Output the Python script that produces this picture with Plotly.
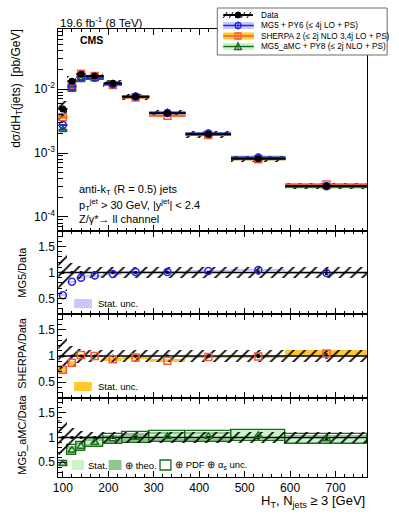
import plotly.graph_objects as go
from plotly.subplots import make_subplots

# ---- values ----
ht_edges = [90, 110, 130, 150, 190, 230, 290, 370, 470, 590, 770]
data_xs = [4.9e-3, 1.33e-2, 1.71e-2, 1.60e-2, 1.23e-2, 7.6e-3, 4.2e-3, 1.96e-3, 8.1e-4, 3.05e-4]
data_unc = [0.35, 0.19, 0.13, 0.11, 0.11, 0.11, 0.11, 0.11, 0.11, 0.11]    # total (hatched)
data_stat = [0.01, 0.01, 0.01, 0.01, 0.01, 0.015, 0.015, 0.02, 0.03, 0.04]

mg5_ratio = [0.56, 0.82, 0.90, 0.94, 0.97, 1.01, 1.01, 1.03, 1.05, 0.99]
mg5_stat = [0.02, 0.015, 0.01, 0.01, 0.01, 0.01, 0.01, 0.015, 0.02, 0.02]

sherpa_ratio = [0.74, 0.87, 1.02, 1.00, 0.94, 0.97, 0.91, 0.98, 0.99, 1.05]
sherpa_stat = [0.07, 0.04, 0.02, 0.02, 0.03, 0.03, 0.025, 0.02, 0.02, 0.055]

amc_ratio = [0.47, 0.74, 0.82, 0.90, 0.97, 1.00, 1.02, 1.02, 1.04, 0.97]
amc_stat = [0.02, 0.03, 0.03, 0.03, 0.03, 0.04, 0.05, 0.06, 0.11, 0.07]
amc_theo = [0.04, 0.09, 0.08, 0.09, 0.09, 0.10, 0.10, 0.10, 0.11, 0.09]
amc_pdf = [0.05, 0.10, 0.09, 0.10, 0.10, 0.11, 0.11, 0.11, 0.12, 0.10]

# ---- styling ----
W, H = 399, 516
FONT = 'Liberation Sans, Arial, sans-serif'
MG5_COL = 'rgb(35,35,240)'
MG5_BAND = 'rgb(200,200,250)'
SH_COL = 'rgb(245,90,60)'
SH_BAND = 'rgb(255,200,45)'
AMC_COL = 'rgb(25,110,25)'
AMC_STAT = 'rgb(200,245,200)'
AMC_THEO = 'rgb(140,200,140)'


def px_x(p):
    return p / W


def px_y(p):
    return 1 - p / H


centers = [(a + b) / 2 for a, b in zip(ht_edges[:-1], ht_edges[1:])]
widths = [b - a for a, b in zip(ht_edges[:-1], ht_edges[1:])]
halfw = [w / 2 for w in widths]


def steps(vals):
    xs, ys = [], []
    for a, b, v in zip(ht_edges[:-1], ht_edges[1:], vals):
        xs += [a, b, None]
        ys += [v, v, None]
    return xs, ys


def band(vals, errs, color, line=None, rel=False, pattern=None):
    if rel:
        base = [v * (1 - e) for v, e in zip(vals, errs)]
        hgt = [2 * v * e for v, e in zip(vals, errs)]
    else:
        base = [v - e for v, e in zip(vals, errs)]
        hgt = [2 * e for e in errs]
    mk = dict(color=color, line=dict(width=0 if line is None else 1.3,
                                     color=line or color))
    if pattern:
        mk['pattern'] = pattern
    return go.Bar(x=centers, y=hgt, base=base, width=widths, marker=mk,
                  showlegend=False, hoverinfo='skip')


hatch = dict(shape='/', fgcolor='black', bgcolor='rgba(0,0,0,0)', size=8, solidity=0.22,
             fgopacity=1)
no_fill = 'rgba(0,0,0,0)'

fig = make_subplots(rows=4, cols=1, shared_xaxes=True, vertical_spacing=0)

# ---- main panel ----
mg5_xs = [d * r for d, r in zip(data_xs, mg5_ratio)]
sh_xs = [d * r for d, r in zip(data_xs, sherpa_ratio)]
amc_xs = [d * r for d, r in zip(data_xs, amc_ratio)]

fig.add_trace(band(amc_xs, amc_stat, AMC_STAT, rel=True), 1, 1)
fig.add_trace(band(sh_xs, sherpa_stat, SH_BAND, rel=True), 1, 1)
fig.add_trace(band(mg5_xs, mg5_stat, MG5_BAND, rel=True), 1, 1)
for vals, col in [(amc_xs, AMC_COL), (sh_xs, SH_COL), (mg5_xs, MG5_COL)]:
    sx, sy = steps(vals)
    fig.add_trace(go.Scatter(x=sx, y=sy, mode='lines', line=dict(color=col, width=2),
                             showlegend=False), 1, 1)
fig.add_trace(band(data_xs, data_unc, no_fill, rel=True, pattern=hatch), 1, 1)
for vals, col, sym in [(amc_xs, AMC_COL, 'triangle-up-open'),
                       (sh_xs, SH_COL, 'square-open'),
                       (mg5_xs, MG5_COL, 'circle-open')]:
    fig.add_trace(go.Scatter(x=centers, y=vals, mode='markers',
                             marker=dict(symbol=sym, size=7, color=col, line=dict(width=1.5)),
                             showlegend=False), 1, 1)
fig.add_trace(go.Scatter(x=centers, y=data_xs, mode='markers',
                         marker=dict(symbol='circle', size=7, color='black'),
                         error_x=dict(type='data', array=halfw, color='black', thickness=2, width=0),
                         showlegend=False), 1, 1)

# ---- ratio panels ----
ones = [1.0] * len(centers)


def data_ratio(row):
    fig.add_trace(band(ones, data_unc, no_fill, pattern=hatch), row, 1)
    fig.add_trace(go.Scatter(x=[ht_edges[0], ht_edges[-1]], y=[1, 1], mode='lines',
                             line=dict(color='black', width=1.5), showlegend=False), row, 1)
    fig.add_trace(go.Scatter(x=centers, y=ones, mode='markers',
                             marker=dict(size=3, color='black'),
                             error_y=dict(type='data', array=data_stat, color='black',
                                          thickness=1, width=1.5),
                             showlegend=False), row, 1)


def mc_markers(row, vals, col, sym):
    fig.add_trace(go.Scatter(x=centers, y=vals, mode='markers',
                             marker=dict(symbol=sym, size=7, color=col, line=dict(width=1.5)),
                             showlegend=False), row, 1)


fig.add_trace(band(mg5_ratio, mg5_stat, MG5_BAND), 2, 1)
data_ratio(2)
mc_markers(2, mg5_ratio, MG5_COL, 'circle-open')

fig.add_trace(band(sherpa_ratio, sherpa_stat, SH_BAND), 3, 1)
data_ratio(3)
mc_markers(3, sherpa_ratio, SH_COL, 'square-open')

fig.add_trace(band(amc_ratio, amc_theo, AMC_THEO), 4, 1)
fig.add_trace(band(amc_ratio, amc_stat, AMC_STAT), 4, 1)
fig.add_trace(band(amc_ratio, amc_pdf, no_fill, line=AMC_COL), 4, 1)
data_ratio(4)
mc_markers(4, amc_ratio, AMC_COL, 'triangle-up-open')

# ---- axes ----
x0, x1 = px_x(54), px_x(367)
doms = [(231, 29), (314, 231), (398, 314), (477, 398)]
for i, (b, t) in enumerate(doms, start=1):
    fig.update_layout({f'yaxis{"" if i == 1 else i}': dict(domain=[px_y(b), px_y(t)]),
                       f'xaxis{"" if i == 1 else i}': dict(domain=[x0, x1])})

fig.update_xaxes(range=[ht_edges[0], ht_edges[-1]], showline=True, linecolor='black',
                 linewidth=1, mirror='allticks', ticks='inside', ticklen=6, tickwidth=1,
                 tickcolor='black', tick0=0, dtick=100, showgrid=False, zeroline=False,
                 minor=dict(ticks='inside', dtick=20, tick0=0, ticklen=3, tickcolor='black'),
                 tickfont=dict(size=12, family=FONT, color='black'))
for r in (1, 2, 3):
    fig.update_xaxes(showticklabels=False, row=r, col=1)

minor_log = [m * 10 ** e for e in range(-5, -1) for m in range(2, 10)]
fig.update_yaxes(type='log', range=[-4.22, -1.06], row=1, col=1,
                 tickvals=[1e-4, 1e-3, 1e-2],
                 ticktext=['10<sup>-4</sup>', '10<sup>-3</sup>', '10<sup>-2</sup>'],
                 ticklen=10,
                 minor=dict(ticks='inside', tickvals=minor_log, ticklen=5, tickcolor='black'))
for r in (2, 3, 4):
    fig.update_yaxes(range=[0.2, 1.8], tickvals=[0.5, 1, 1.5], ticktext=['0.5', '1', '1.5'],
                     ticklen=8, row=r, col=1,
                     minor=dict(ticks='inside', dtick=0.1, tick0=0, ticklen=4, tickcolor='black'))
fig.update_yaxes(showline=True, linecolor='black', linewidth=1, mirror=True, ticks='inside',
                 tickwidth=1, tickcolor='black', showgrid=False, zeroline=False,
                 tickfont=dict(size=12, family=FONT, color='black'))

# ---- text ----
ann = []


def text(x, y, s, size=11, xa='left', ya='middle', angle=0, **kw):
    ann.append(dict(x=px_x(x), y=px_y(y), xref='paper', yref='paper', text=s, showarrow=False,
                    xanchor=xa, yanchor=ya, textangle=angle,
                    font=dict(size=size, family=FONT, color='black'), **kw))


text(54, 22, '19.6 fb<sup>-1</sup> (8 TeV)', size=11.5)
text(74, 40, '<b>CMS</b>', size=10.5)
text(73, 190, 'anti-k<sub>T</sub> (R = 0.5) jets', size=11)
text(73, 205, 'p<sub>T</sub><sup>jet</sup> > 30 GeV, |y<sup>jet</sup>| < 2.4', size=11)
text(73, 219, 'Z/γ*→ ll channel', size=11)
text(12, 88, 'dσ/dH<sub>T</sub>(jets)  [pb/GeV]', size=12, xa='center', angle=-90)
text(17, 272, 'MG5/Data', size=11, xa='center', angle=-90)
text(17, 353, 'SHERPA/Data', size=11, xa='center', angle=-90)
text(17, 435, 'MG5_aMC/Data', size=11, xa='center', angle=-90)
text(367, 501, 'H<sub>T</sub>, N<sub>jets</sub> ≥ 3 [GeV]', size=13, xa='right')

# ratio-panel keys
shapes = []


def rect(xa, ya, xb, yb, fill, line=None, lw=1):
    shapes.append(dict(type='rect', xref='paper', yref='paper', x0=px_x(xa), x1=px_x(xb),
                       y0=px_y(yb), y1=px_y(ya), fillcolor=fill,
                       line=dict(color=line or fill, width=lw if line else 0), layer='above'))


def seg(xa, ya, xb, yb, col, lw=1):
    shapes.append(dict(type='line', xref='paper', yref='paper', x0=px_x(xa), x1=px_x(xb),
                       y0=px_y(ya), y1=px_y(yb), line=dict(color=col, width=lw), layer='above'))


rect(70, 299, 88, 308, MG5_BAND)
text(92, 303.5, 'Stat. unc.', size=9.5)
rect(70, 382, 88, 391, SH_BAND)
text(92, 386.5, 'Stat. unc.', size=9.5)
rect(68, 460, 80, 470, AMC_STAT)
text(82, 465, 'Stat.', size=9.5)
rect(105, 460, 118, 470, AMC_THEO)
text(120, 465, '⊕ theo.', size=9.5)
rect(157, 460, 168, 470, 'white', line=AMC_COL, lw=1.3)
text(170, 465, '⊕ PDF ⊕ α<sub>s</sub> unc.', size=9.5)

# ---- top legend ----
rect(215, 8, 387, 55, 'white', line='rgb(110,110,110)', lw=1)
rows = [15, 25.5, 36, 46.5]
# data entry
for k in range(5):
    seg(221 + k * 6, rows[0] + 3, 225 + k * 6, rows[0] - 3, 'black', 1)
seg(221, rows[0], 251, rows[0], 'black', 2)
shapes.append(dict(type='circle', xref='paper', yref='paper', x0=px_x(233), x1=px_x(239),
                   y0=px_y(rows[0] + 3), y1=px_y(rows[0] - 3), fillcolor='black',
                   line=dict(color='black', width=1), layer='above'))
# MC entries
for yy, bandc, col in [(rows[1], MG5_BAND, MG5_COL), (rows[2], SH_BAND, SH_COL),
                       (rows[3], AMC_STAT, AMC_COL)]:
    rect(221, yy - 3.5, 252, yy + 3.5, bandc)
    seg(221, yy, 252, yy, col, 1.5)
    seg(236, yy - 4, 236, yy + 4, col, 1)
shapes.append(dict(type='circle', xref='paper', yref='paper', x0=px_x(233), x1=px_x(239),
                   y0=px_y(rows[1] + 3), y1=px_y(rows[1] - 3), fillcolor=no_fill,
                   line=dict(color=MG5_COL, width=1.3), layer='above'))
rect(233, rows[2] - 3, 239, rows[2] + 3, no_fill, line=SH_COL, lw=1.3)
shapes.append(dict(type='path', xref='paper', yref='paper',
                   path=f'M{px_x(232.5)},{px_y(rows[3] + 3)} L{px_x(239.5)},{px_y(rows[3] + 3)} '
                        f'L{px_x(236)},{px_y(rows[3] - 3.5)} Z',
                   fillcolor=no_fill, line=dict(color=AMC_COL, width=1.3), layer='above'))

for yy, s in zip(rows, ['Data', 'MG5 + PY6 (≤ 4j LO + PS)',
                        'SHERPA 2 (≤ 2j NLO 3,4j LO + PS)',
                        'MG5_aMC + PY8 (≤ 2j NLO + PS)']):
    text(257, yy, s, size=8.2)

fig.update_layout(width=W, height=H, margin=dict(l=0, r=0, t=0, b=0),
                  paper_bgcolor='white', plot_bgcolor='white', barmode='overlay',
                  bargap=0, showlegend=False, annotations=ann, shapes=shapes,
                  font=dict(family=FONT, color='black'))

# page body has a default margin; drop it so the figure sits at the window origin
fig.write_html('out.html', config={'displayModeBar': False},
               post_script="document.body.style.margin='0';")
